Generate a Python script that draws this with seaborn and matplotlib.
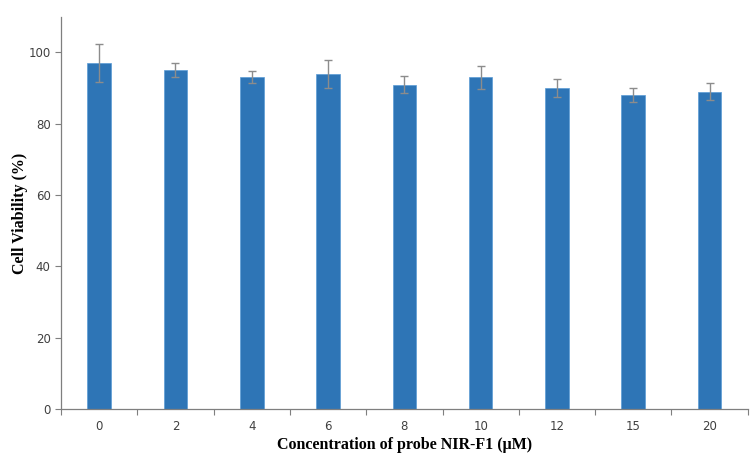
import matplotlib
matplotlib.use("Agg")
import matplotlib.pyplot as plt
import seaborn as sns
import numpy as np
import pandas as pd

categories = ["0", "2", "4", "6", "8", "10", "12", "15", "20"]
viability = [97, 95, 93, 94, 91, 93, 90, 88, 89]
errors = [5.3, 2.0, 1.7, 4.0, 2.5, 3.2, 2.5, 1.9, 2.3]

sns.set_theme(style="white")
plt.rcParams['font.family'] = ['DejaVu Sans']

df = pd.DataFrame({"conc": categories, "via": viability})

fig = plt.figure(figsize=(7.53, 4.54), dpi=100)
ax = fig.add_axes([0.081, 0.099, 0.912, 0.864])
sns.barplot(data=df, x="conc", y="via", color="#2E75B6", saturation=1,
            width=0.31, errorbar=None, ax=ax, edgecolor="#5b9bd5", linewidth=0.5)
ax.errorbar(np.arange(len(categories)), viability, yerr=errors, fmt="none",
            ecolor="#8c8c8c", elinewidth=1, capsize=3, capthick=1)

ax.set_xlim(-0.5, len(categories) - 0.5)
ax.set_ylim(0, 110)
ax.set_yticks([0, 20, 40, 60, 80, 100])
ax.set_xticks(np.arange(len(categories)))
ax.set_xticklabels(categories)
ax.set_xticks(np.arange(-0.5, len(categories)), minor=True)
ax.tick_params(axis="x", which="major", length=0, labelsize=8.5, colors="#404040", pad=8)
ax.tick_params(axis="x", which="minor", length=4, width=0.8, color="#7f7f7f", direction="out", bottom=True)
ax.tick_params(axis="y", length=4, width=0.8, color="#7f7f7f", direction="out", left=True,
               labelsize=8.5, labelcolor="#404040")

for s in ["top", "right"]:
    ax.spines[s].set_visible(False)
for s in ["left", "bottom"]:
    ax.spines[s].set_color("#7f7f7f")
    ax.spines[s].set_linewidth(0.9)

ax.set_xlabel("Concentration of probe NIR-F1 (μM)", fontfamily="Liberation Serif",
              fontweight="bold", fontsize=11.5, color="black", va="center")
ax.set_ylabel("Cell Viability (%)", fontfamily="Liberation Serif",
              fontweight="bold", fontsize=11.5, color="black", va="center")
ax.xaxis.set_label_coords(0.5, -0.092)
ax.yaxis.set_label_coords(-0.06, 0.5)

fig.savefig("out.png", dpi=100)
